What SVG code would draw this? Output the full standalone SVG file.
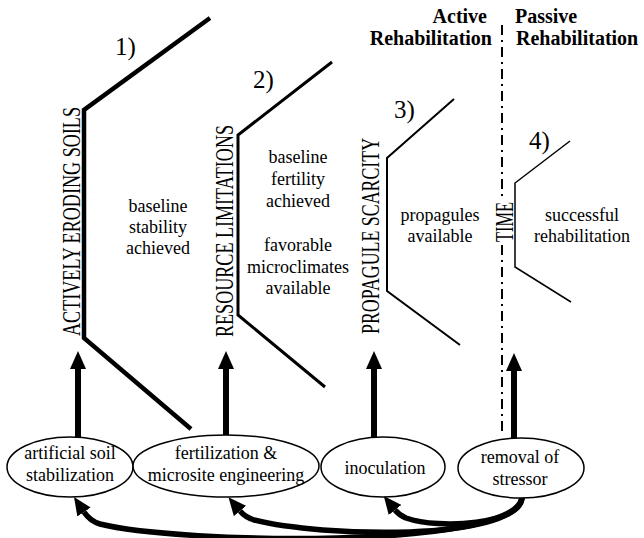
<svg xmlns="http://www.w3.org/2000/svg" width="644" height="538" viewBox="0 0 644 538" font-family="Liberation Serif, serif">
<style>
text{font-family:"Liberation Serif",serif;fill:#000}
.t{font-size:18px;text-anchor:middle}
.num{font-size:25px}
.vl{font-size:18px;text-anchor:middle}
.hd{font-size:20px;font-weight:bold}
.stage{fill:none;stroke:#000;stroke-linejoin:miter}
.node ellipse{fill:#fff;stroke:#000;stroke-width:1.5}
.up{stroke:#000;stroke-width:6;fill:none}
.cv{stroke:#000;stroke-width:5.5;fill:none}
</style>
<defs>
<marker id="ah" viewBox="0 0 18 16" refX="0" refY="8" markerWidth="18" markerHeight="16" markerUnits="userSpaceOnUse" orient="auto">
<path d="M0,0 L18,8 L0,16 z" fill="#000"/>
</marker>
</defs>
<rect width="644" height="538" fill="#fff"/>

<g id="divider">
<line x1="502" y1="25" x2="502" y2="435" stroke="#000" stroke-width="2" stroke-dasharray="10 5 2 5"/>
</g>
<g id="headers">
<text class="hd" x="487" y="23" text-anchor="end">Active</text>
<text class="hd" x="492" y="45" text-anchor="end">Rehabilitation</text>
<text class="hd" x="515" y="23">Passive</text>
<text class="hd" x="516" y="45">Rehabilitation</text>
</g>

<g id="stage1">
<polyline class="stage" stroke-width="4.5" points="210,18 84,110 84,338 191,429"/>
<text class="num" x="115" y="55">1)</text>
<text class="vl" transform="translate(80,221.5) rotate(-90) scale(1,1.35)" textLength="229" lengthAdjust="spacingAndGlyphs">ACTIVELY ERODING SOILS</text>
<text class="t" x="158" y="212">baseline</text>
<text class="t" x="158" y="233">stability</text>
<text class="t" x="158" y="254">achieved</text>
</g>

<g id="stage2">
<polyline class="stage" stroke-width="3" points="332,62 238,135 238,315 325,387"/>
<text class="num" x="253" y="88">2)</text>
<text class="vl" transform="translate(233,231) rotate(-90) scale(1,1.35)" textLength="212" lengthAdjust="spacingAndGlyphs">RESOURCE LIMITATIONS</text>
<text class="t" x="298" y="163">baseline</text>
<text class="t" x="298" y="185">fertility</text>
<text class="t" x="298" y="207">achieved</text>
<text class="t" x="298" y="251">favorable</text>
<text class="t" x="298" y="273">microclimates</text>
<text class="t" x="298" y="294">available</text>
</g>

<g id="stage3">
<polyline class="stage" stroke-width="2" points="454,99 387,158 387,291 460,345"/>
<text class="num" x="394" y="118">3)</text>
<text class="vl" transform="translate(379,236) rotate(-90) scale(1,1.35)" textLength="196" lengthAdjust="spacingAndGlyphs">PROPAGULE SCARCITY</text>
<text class="t" x="440" y="221">propagules</text>
<text class="t" x="440" y="242">available</text>
</g>

<g id="stage4">
<polyline class="stage" stroke-width="1.5" points="570,141 515,183 515,267 571,302"/>
<text class="num" x="529" y="149">4)</text>
<rect x="496" y="199" width="17" height="46" fill="#fff"/>
<text class="vl" transform="translate(513,222) rotate(-90) scale(1,1.35)" textLength="40" lengthAdjust="spacingAndGlyphs">TIME</text>
<text class="t" x="582" y="221">successful</text>
<text class="t" x="582" y="242">rehabilitation</text>
</g>

<g id="connectors">
<line class="up" x1="78" y1="438" x2="78" y2="369" marker-end="url(#ah)"/>
<line class="up" x1="226" y1="436" x2="226" y2="369" marker-end="url(#ah)"/>
<line class="up" x1="374" y1="437" x2="374" y2="369" marker-end="url(#ah)"/>
<line class="up" x1="514" y1="438" x2="514" y2="371" marker-end="url(#ah)"/>
<path class="cv" d="M522,498 C512,550 180,544 100,524 Q 90,521 84,512" marker-end="url(#ah)"/>
<path class="cv" d="M522,498 C514,542 320,537 254,520 Q 245,517 240,511" marker-end="url(#ah)"/>
<path class="cv" d="M522,498 C521,524 440,530 406,518 Q 399,515 395,510" marker-end="url(#ah)"/>
</g>

<g id="node-artificial" class="node">
<ellipse cx="70" cy="467" rx="63" ry="30"/>
<text class="t" x="70" y="459">artificial soil</text>
<text class="t" x="70" y="481">stabilization</text>
</g>
<g id="node-fertilization" class="node">
<ellipse cx="226" cy="466" rx="93" ry="31"/>
<text class="t" x="226" y="459">fertilization &amp;</text>
<text class="t" x="226" y="481">microsite engineering</text>
</g>
<g id="node-inoculation" class="node">
<ellipse cx="383" cy="467" rx="62" ry="30"/>
<text class="t" x="385" y="474">inoculation</text>
</g>
<g id="node-removal" class="node">
<ellipse cx="521" cy="468" rx="63" ry="30"/>
<text class="t" x="520" y="463">removal of</text>
<text class="t" x="520" y="485">stressor</text>
</g>
</svg>
